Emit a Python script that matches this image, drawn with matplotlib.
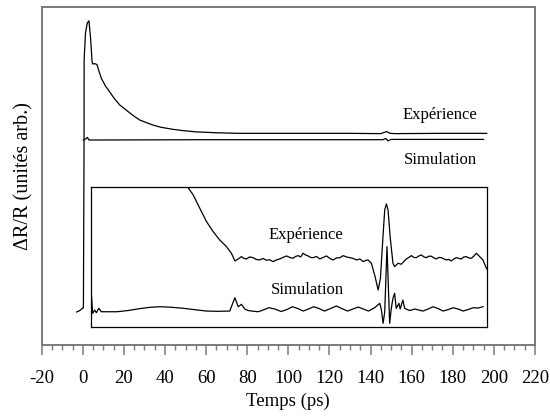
import matplotlib
matplotlib.use("Agg")
import matplotlib.pyplot as plt
from matplotlib.ticker import MultipleLocator

# --- Main traces (time in ps, ΔR/R in arbitrary units) ---
exp_t = [-3.0, -1.5, 0.0, 0.3, 0.6, 0.65, 1.3, 2.2, 3.0, 3.85, 4.5, 4.8, 5.8, 6.9,
         7.9, 9.0, 11.0, 13.1, 15.5, 18.0, 20.5, 22.8, 25.0, 27.7, 31.0, 34.0, 38.0,
         43.8, 48.0, 55.3, 65.0, 76.0, 100.0, 130.0,
         145.0, 146.5, 147.8, 149.5, 152.0, 175.0, 196.5]
exp_y = [-0.07, -0.02, 0.07, 0.07, 5.54, 8.65, 9.58, 9.93, 10.0, 9.34, 8.59, 8.51, 8.52, 8.49,
         8.25, 8.02, 7.75, 7.54, 7.30, 7.09, 6.95, 6.82, 6.70, 6.57, 6.48, 6.40, 6.32,
         6.25, 6.21, 6.16, 6.13, 6.11, 6.11, 6.11,
         6.10, 6.14, 6.17, 6.11, 6.10, 6.11, 6.11]

sim_t = [0.3, 1.5, 2.2, 3.0, 10.0, 60.0, 100.0, 146.0, 147.5, 148.5, 150.0, 195.0]
sim_y = [5.88, 5.92, 5.97, 5.88, 5.88, 5.89, 5.89, 5.89, 5.93, 5.85, 5.90, 5.90]

# --- Magnified traces shown in the inset (arbitrary units) ---
zexp_t = [50.0, 51.2, 53.7, 56.9, 60.2, 63.4, 66.6, 69.9, 72.3, 74.0, 75.6, 77.2, 78.4,
          79.6, 81.2, 82.8, 84.4, 86.1, 87.7, 89.3, 91.0, 92.6, 94.2, 95.8, 97.4, 99.1,
          100.7, 102.3, 103.5, 104.8, 106.0, 107.2, 108.4, 109.6, 110.8, 112.1, 113.7,
          115.3, 116.9, 118.6, 120.2, 121.8, 123.4, 125.1, 126.7, 128.3, 129.9, 131.5,
          133.2, 134.8, 136.4, 137.6, 138.8, 140.4, 142.0, 143.7, 144.8, 146.1, 146.9,
          147.7, 148.5, 149.6, 150.9, 151.7, 153.4, 155.0, 156.2, 157.4, 158.6, 159.9,
          161.1, 162.3, 163.5, 164.7, 166.0, 167.2, 168.4, 169.6, 170.8, 172.0, 173.2,
          174.5, 175.7, 176.9, 178.1, 179.3, 180.5, 181.8, 183.0, 184.2, 185.4, 186.6,
          187.8, 189.1, 190.3, 191.5, 192.3, 193.1, 194.7, 196.0, 196.6]
zexp_y = [14.3, 13.93, 13.2, 11.87, 10.53, 9.53, 8.7, 8.03, 7.37, 6.6, 6.8, 7.03, 6.85,
          6.8, 7.0, 6.93, 6.75, 6.7, 6.85, 6.67, 6.72, 6.53, 6.7, 6.8, 6.95, 7.1,
          6.95, 6.87, 7.05, 7.13, 7.0, 7.37, 7.2, 7.1, 6.95, 6.93, 7.05,
          6.8, 6.95, 7.1, 6.85, 6.7, 6.9, 6.93, 7.13, 7.0, 6.93, 6.85,
          6.7, 6.8, 6.53, 6.65, 6.7, 6.37, 5.2, 3.7, 4.87, 9.2, 11.7,
          12.3, 11.7, 8.87, 6.37, 6.03, 6.37, 6.27, 6.55, 6.8, 6.95, 7.13,
          6.95, 6.93, 7.1, 7.2, 7.0, 6.93, 7.08, 7.07, 6.9, 6.8, 6.95,
          6.93, 6.8, 6.7, 6.75, 6.6, 6.8, 6.93, 6.85, 6.8, 7.0, 7.03,
          6.9, 6.87, 7.1, 7.37, 7.2, 7.03, 6.7, 6.03, 5.8]

zsim_t = [4.2, 4.8, 5.8, 6.6, 7.8, 9.0, 11.5, 16.6, 22.0, 28.0, 33.0, 37.7, 43.0, 49.1,
          55.0, 60.1, 66.0, 71.5, 74.0, 75.6, 77.2, 78.8, 80.5, 82.1, 85.3, 88.0, 90.5,
          93.5, 96.5, 99.3, 102.0, 104.6, 107.2, 109.8, 112.3, 115.0, 117.6, 120.5, 123.4,
          126.0, 128.8, 131.4, 134.0, 136.5, 139.0, 142.0, 144.5, 145.3, 146.1, 146.9,
          148.0, 148.8, 149.3, 150.1, 150.9, 151.7, 152.5, 153.8, 154.4, 155.7, 156.6,
          159.0, 161.5, 163.5, 165.5, 168.0, 170.4, 172.8, 175.3, 177.8, 180.2, 182.6,
          185.0, 187.5, 189.9, 192.3, 194.7]
zsim_y = [3.2, 1.37, 1.7, 1.43, 1.87, 1.53, 1.53, 1.53, 1.65, 1.85, 1.98, 2.03, 1.98, 1.87,
          1.72, 1.6, 1.57, 1.6, 2.93, 2.03, 2.27, 1.8, 1.65, 1.6, 1.53, 1.72, 1.93,
          1.8, 1.55, 1.75, 2.03, 1.85, 1.6, 1.8, 2.03, 1.85, 1.6, 1.85, 2.1,
          1.85, 1.6, 1.8, 2.0, 1.8, 1.6, 1.93, 2.37, 1.7, 0.37, 1.53,
          8.03, 3.2, 0.37, 1.87, 2.87, 3.37, 1.87, 2.37, 1.8, 2.7, 1.87,
          1.65, 1.8, 1.7, 1.6, 1.8, 2.03, 1.85, 1.6, 1.75, 1.93, 1.8,
          1.6, 1.75, 1.93, 1.9, 2.03]

x_ticks = list(range(-20, 221, 20))

plt.rcParams["font.family"] = ["Liberation Serif", "DejaVu Serif"]
gray = "#7a7a7a"

fig = plt.figure(figsize=(5.5, 4.16), dpi=100)
ax = fig.add_axes([0.0758, 0.1707, 0.8969, 0.8132])

ax.plot(exp_t, exp_y, color="black", lw=0.9)
ax.plot(sim_t, sim_y, color="black", lw=0.9)

ax.set_xlim(-20, 220)
ax.set_ylim(-1.21, 10.49)
ax.set_xticks(x_ticks)
ax.set_xticklabels([str(v) for v in x_ticks])
ax.xaxis.set_minor_locator(MultipleLocator(5))
ax.set_yticks([])
ax.tick_params(axis="x", which="major", direction="out", length=7.2, width=1.1,
               color=gray, labelsize=13.5, pad=11)
ax.tick_params(axis="x", which="minor", direction="out", length=3.6, width=1.0,
               color=gray)
for sp in ax.spines.values():
    sp.set_color(gray)
    sp.set_linewidth(1.4)

ax.set_xlabel("Temps (ps)", fontsize=13.5, labelpad=4)
ax.set_ylabel("ΔR/R (unités arb.)", fontsize=14.5, labelpad=6)

ax.text(173.8, 6.75, "Expérience", fontsize=12, ha="center", va="center")
ax.text(173.8, 5.19, "Simulation", fontsize=12, ha="center", va="center")

# Inset with the magnified traces, sharing the time scale of the main axes
ins = ax.inset_axes([3.85, -0.59, 196.7 - 3.85, 4.26 + 0.59], transform=ax.transData)
ins.plot(zexp_t, zexp_y, color="black", lw=0.9)
ins.plot(zsim_t, zsim_y, color="black", lw=0.9)
ins.set_xlim(3.85, 196.7)
ins.set_ylim(0, 14)
ins.set_xticks([])
ins.set_yticks([])
for sp in ins.spines.values():
    sp.set_color("black")
    sp.set_linewidth(0.9)
ins.text(108.5, 9.2, "Expérience", fontsize=12, ha="center", va="center")
ins.text(109.5, 3.7, "Simulation", fontsize=12, ha="center", va="center")

fig.savefig("out.png", dpi=100)
